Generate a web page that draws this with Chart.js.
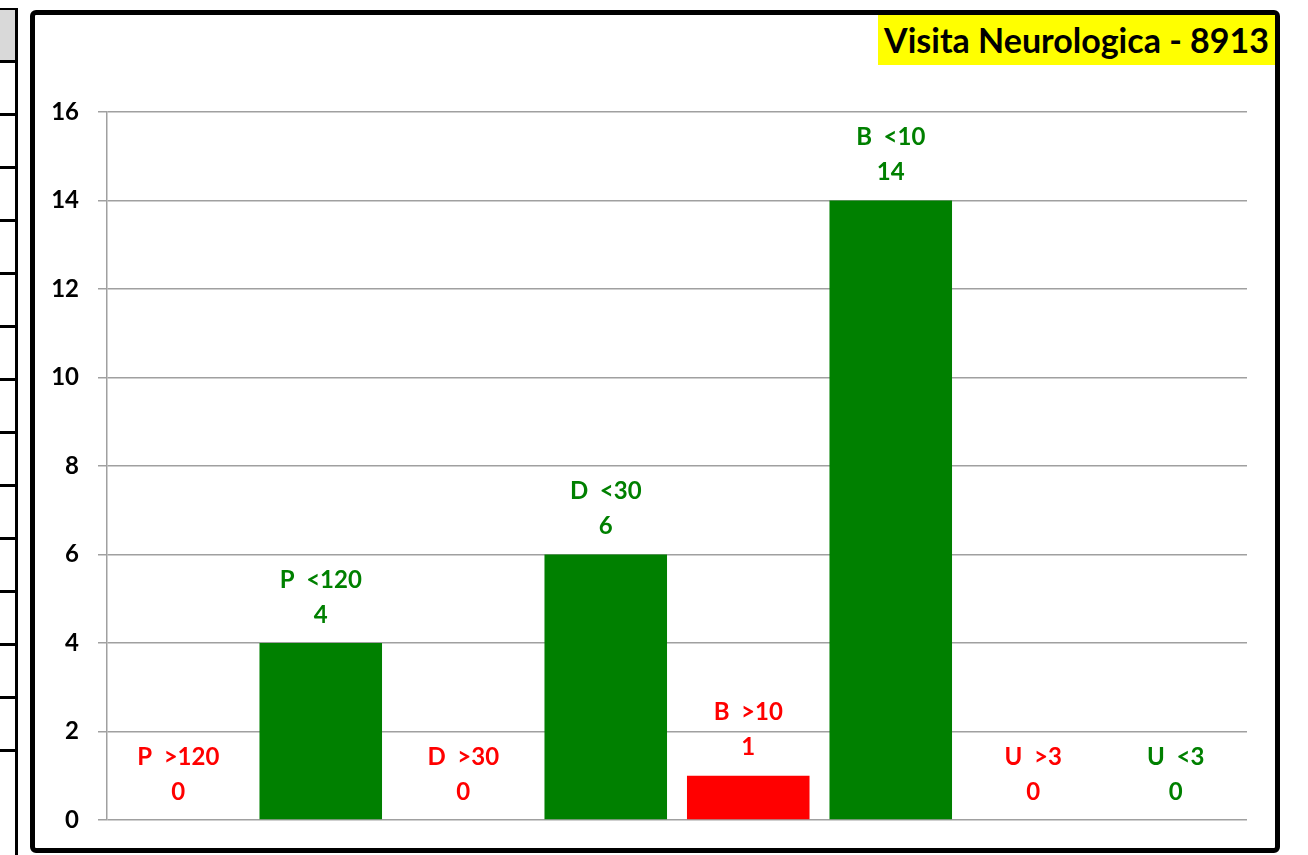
<!DOCTYPE html>
<html>
<head>
<meta charset="utf-8">
<script src="https://cdn.jsdelivr.net/npm/chart.js@4"></script>
<style>
  html, body { margin: 0; padding: 0; background: #fff; }
  body { width: 1308px; height: 855px; position: relative; overflow: hidden; font-family: Lato, "Open Sans", sans-serif; }
  #side { position: absolute; left: 0; top: 8px; width: 15px; height: 847px; border-right: 3px solid #000; }
  #side .head { position: absolute; left: 0; top: 0; width: 15px; height: 51px; background: #d9d9d9; border-top: 2px solid #000; }
  #side .row { position: absolute; left: 0; width: 15px; border-top: 3px solid #000; }
  #frame { position: absolute; left: 30px; top: 10px; width: 1240px; height: 833px; border: 5px solid #000; border-radius: 6px; }
  #title { position: absolute; right: 0; top: 0; height: 50px; padding: 0 6px; background: #ffff00; color: #000;
           font: bold 34px Lato, sans-serif; line-height: 50px; }
  canvas { position: absolute; left: 0; top: 0; }
</style>
</head>
<body>
<div id="side"><div class="head"></div></div>
<div id="frame">
  <canvas id="bars" width="1240" height="833"></canvas>
  <div id="title">Visita Neurologica - 8913</div>
</div>
<script>
const categories = ["P  >120", "P  <120", "D  >30", "D  <30", "B  >10", "B  <10", "U  >3", "U  <3"];
const counts = [0, 4, 0, 6, 1, 14, 0, 0];
const catColors = ["#ff0000", "#008000", "#ff0000", "#008000", "#ff0000", "#008000", "#ff0000", "#008000"];
const yTicks = [0, 2, 4, 6, 8, 10, 12, 14, 16];

// left table fragment rows
const side = document.getElementById("side");
for (let i = 1; i < 15; i++) {
  const r = document.createElement("div");
  r.className = "row";
  r.style.top = (52 + (i - 1) * 53) + "px";
  side.appendChild(r);
}

/* two-line labels above each bar */
const barLabels = {
  id: "barLabels",
  afterDatasetsDraw(chart) {
    const ctx = chart.ctx;
    const meta = chart.getDatasetMeta(0);
    ctx.save();
    ctx.font = "bold 24px Lato, sans-serif";
    ctx.textAlign = "center";
    ctx.textBaseline = "middle";
    meta.data.forEach((bar, i) => {
      ctx.fillStyle = catColors[i];
      ctx.fillText(categories[i], bar.x, bar.y - 63);
      ctx.fillText(String(counts[i]), bar.x, bar.y - 28);
    });
    ctx.restore();
  }
};

new Chart(document.getElementById("bars"), {
  type: "bar",
  data: {
    labels: categories,
    datasets: [{
      data: counts,
      backgroundColor: catColors,
      borderWidth: 0,
      barPercentage: 0.86,
      categoryPercentage: 1
    }]
  },
  options: {
    responsive: false,
    animation: false,
    layout: { padding: { left: 0, right: 28, top: 97, bottom: 28 } },
    plugins: { legend: { display: false }, tooltip: { enabled: false } },
    scales: {
      x: { display: false },
      y: {
        min: 0,
        max: 16,
        afterFit: s => { s.width = 72; },
        afterBuildTicks: s => { s.ticks = yTicks.map(v => ({ value: v })); },
        grid: { color: "#a0a0a0", lineWidth: 1.5, tickLength: 9, tickColor: "#a0a0a0" },
        border: { color: "#a0a0a0", width: 1.5 },
        ticks: { color: "#000", padding: 19, font: { family: "Lato", weight: "bold", size: 24, lineHeight: 0.5 } }
      }
    }
  },
  plugins: [barLabels]
});
</script>
</body>
</html>
